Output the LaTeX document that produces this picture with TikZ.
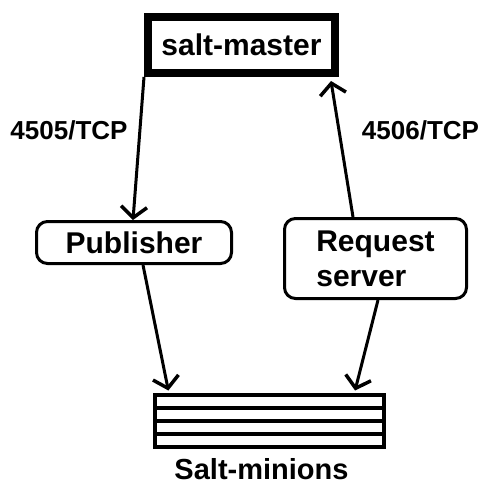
\documentclass[tikz,border=0pt]{standalone}
\usepackage{fontspec}
\setmainfont{Liberation Sans}
\usetikzlibrary{arrows.meta}
\begin{document}
\begin{tikzpicture}[x=1pt,y=-1pt,
  bigtxt/.style={font=\fontsize{30}{35}\selectfont\bfseries},
  lbltxt/.style={font=\fontsize{26}{30}\selectfont\bfseries, inner sep=0pt},
  roundbox/.style={draw, line width=3pt, rounded corners=11pt, inner sep=0pt, bigtxt},
  conn/.style={line width=3pt, -{Straight Barb[length=11pt,width=26pt,line width=3.5pt]}}]
\useasboundingbox (0,0) rectangle (482,486);
\node[draw, line width=8pt, minimum width=187pt, minimum height=56pt, inner sep=0pt, bigtxt] (master) at (241.5,45) {salt-master};
\node[roundbox, minimum width=195pt, minimum height=42pt] (pub) at (134,242.5) {Publisher};
\node[roundbox, minimum width=182pt, minimum height=80pt, align=left] (req) at (375.5,258.5) {Request\\server};
\node[draw, line width=4pt, minimum width=228.7pt, minimum height=52.6pt, inner sep=0pt] (minions) at (269.7,420.8) {};
\draw[line width=4pt] ([yshift=13.15pt]minions.west) -- ([yshift=13.15pt]minions.east);
\draw[line width=4pt] (minions.west) -- (minions.east);
\draw[line width=4pt] ([yshift=-13.15pt]minions.west) -- ([yshift=-13.15pt]minions.east);
\node[lbltxt] (l4505) at (69,130) {4505/TCP};
\node[lbltxt] (l4506) at (420.5,130) {4506/TCP};
\node[font=\fontsize{29}{34}\selectfont\bfseries, inner sep=0pt] (mintxt) at (261.5,469.5) {Salt-minions};
\draw[conn] (master.south west) -- ([xshift=-1pt]pub.north);
\draw[conn] ([xshift=-22.5pt]req.north) -- ([xshift=-8pt,yshift=-4pt]master.south east);
\draw[conn] ([xshift=9pt]pub.south) -- ([xshift=15pt,yshift=2pt]minions.north west);
\draw[conn] ([xshift=2.5pt]req.south) -- ([xshift=-31pt,yshift=2pt]minions.north east);
\end{tikzpicture}
\end{document}
